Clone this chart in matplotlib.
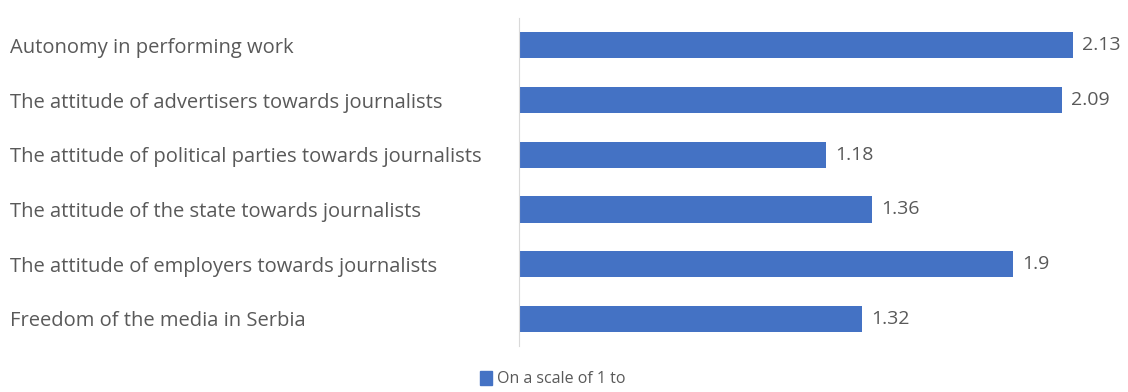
import matplotlib.pyplot as plt
from matplotlib.patches import Patch

categories = [
    "Autonomy in performing work",
    "The attitude of advertisers towards journalists",
    "The attitude of political parties towards journalists",
    "The attitude of the state towards journalists",
    "The attitude of employers towards journalists",
    "Freedom of the media in Serbia",
]
values = [2.13, 2.09, 1.18, 1.36, 1.9, 1.32]
series_name = "On a scale of 1 to"

blue = "#4472C4"
grey_text = "#595959"
plt.rcParams["font.family"] = ["Open Sans", "DejaVu Sans"]

fig = plt.figure(figsize=(11.28, 3.92), dpi=100)
ax = fig.add_axes([0.460, 0.117, 0.530, 0.837])

pos = list(range(len(categories)))[::-1]
bars = ax.barh(pos, values, height=0.48, color=blue)
for b, v in zip(bars, values):
    ax.text(b.get_width() + 0.035, b.get_y() + b.get_height() / 2, f"{v:g}",
            va="center", ha="left", fontsize=14, color=grey_text)

ax.set_xlim(0, 2.3)
ax.set_ylim(-0.5, len(categories) - 0.5)
ax.set_yticks(pos)
ax.set_yticklabels(categories, ha="left", fontsize=14.5, color=grey_text)
ax.tick_params(axis="y", length=0, pad=509 * 72 / 100)
ax.set_xticks([])
for s in ["top", "right", "bottom"]:
    ax.spines[s].set_visible(False)
ax.spines["left"].set_color("#d9d9d9")

fig.legend(handles=[Patch(color=blue)], labels=[series_name], loc="lower center",
           bbox_to_anchor=(0.49, -0.025), frameon=False, fontsize=11.5,
           handlelength=0.8, handleheight=0.9, handletextpad=0.3,
           labelcolor=grey_text)

fig.savefig("out.png", dpi=100)
